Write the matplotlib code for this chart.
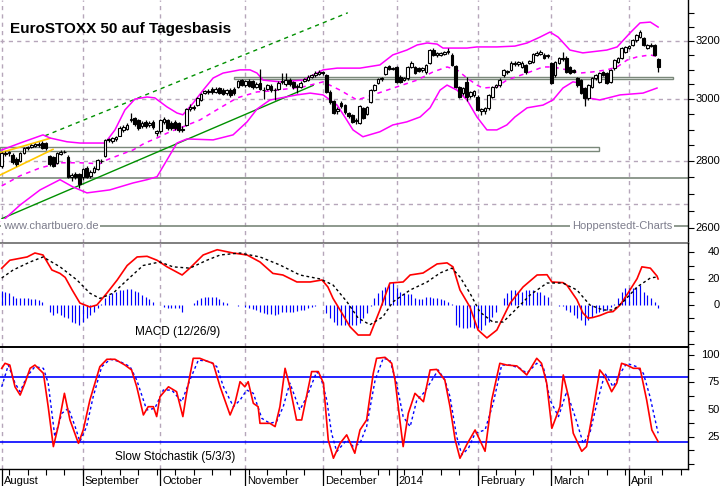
import matplotlib
matplotlib.use("Agg")
import matplotlib.pyplot as plt
import matplotlib.transforms as mtrans
from matplotlib.patches import Rectangle
from matplotlib.ticker import NullLocator

plt.rcParams['font.family'] = ['Liberation Sans', 'DejaVu Sans']

# ---------------- data (x = trading-day index, 0 = 1 Aug 2013) ----------------
opens = [2785, 2822, 2824, 2820, 2806, 2800, 2826, 2840, 2845, 2848,
         2853, 2857, 2856, 2815, 2812, 2795, 2822, 2830, 2812, 2752,
         2760, 2760, 2750, 2779, 2755, 2767, 2776, 2800, 2815, 2866,
         2862, 2870, 2880, 2898, 2903, 2930, 2938, 2930, 2912, 2925,
         2914, 2924, 2890, 2895, 2925, 2930, 2922, 2925, 2920, 2898,
         2915, 2968, 2972, 2980, 2998, 3020, 3024, 3035, 3024, 3036,
         3030, 3020, 3032, 3035, 3040, 3064, 3048, 3062, 3060, 3040,
         3055, 3030, 3035, 3045, 3030, 3035, 3058, 3050, 3066, 3058,
         3042, 3040, 3062, 3066, 3075, 3080, 3086, 3090, 3080, 3025,
         2992, 2960, 2987, 2980, 2954, 2948, 2932, 2922, 2970, 2951,
         2990, 3030, 3054, 3068, 3085, 3112, 3102, 3109, 3075, 3066,
         3071, 3110, 3109, 3105, 3098, 3090, 3122, 3168, 3150, 3152,
         3154, 3160, 3151, 3112, 3040, 3020, 3057, 3010, 3012, 3007,
         2962, 2960, 2970, 3007, 3042, 3047, 3081, 3090, 3100, 3120,
         3118, 3110, 3116, 3124, 3126, 3151, 3154, 3151, 3148, 3122,
         3081, 3122, 3136, 3140, 3109, 3098, 3071, 3064, 3037, 3004,
         3040, 3071, 3058, 3092, 3088, 3058, 3105, 3126, 3140, 3161,
         3176, 3186, 3203, 3214, 3211, 3175, 3186, 3186, 3137]
highs = [2830, 2832, 2832, 2824, 2812, 2830, 2845, 2848, 2855, 2858,
         2860, 2862, 2860, 2820, 2816, 2830, 2834, 2836, 2818, 2762,
         2766, 2764, 2780, 2785, 2772, 2784, 2808, 2806, 2870, 2874,
         2876, 2880, 2910, 2914, 2922, 2954, 2942, 2934, 2928, 2930,
         2928, 2930, 2900, 2935, 2940, 2935, 2928, 2930, 2925, 2910,
         2972, 2982, 2980, 3006, 3022, 3032, 3034, 3040, 3040, 3040,
         3036, 3034, 3036, 3040, 3066, 3068, 3066, 3068, 3066, 3058,
         3102, 3040, 3052, 3050, 3038, 3060, 3088, 3088, 3072, 3062,
         3050, 3060, 3072, 3080, 3086, 3094, 3098, 3096, 3084, 3030,
         2998, 2975, 2992, 2984, 2958, 2952, 2938, 2980, 2975, 2978,
         3034, 3050, 3072, 3076, 3112, 3116, 3110, 3112, 3080, 3074,
         3112, 3128, 3114, 3110, 3108, 3118, 3172, 3174, 3160, 3162,
         3166, 3176, 3156, 3116, 3044, 3040, 3074, 3028, 3030, 3012,
         2972, 2974, 3018, 3044, 3052, 3070, 3102, 3098, 3128, 3128,
         3130, 3128, 3120, 3132, 3158, 3164, 3168, 3156, 3155, 3126,
         3130, 3144, 3160, 3146, 3114, 3102, 3076, 3068, 3042, 3052,
         3075, 3085, 3092, 3096, 3092, 3102, 3136, 3144, 3178, 3182,
         3186, 3206, 3226, 3240, 3216, 3190, 3192, 3190, 3140]
lows = [2780, 2815, 2816, 2792, 2785, 2796, 2822, 2834, 2840, 2843,
        2845, 2838, 2836, 2786, 2782, 2790, 2818, 2824, 2748, 2738,
        2745, 2718, 2742, 2748, 2748, 2762, 2772, 2794, 2812, 2860,
        2856, 2862, 2878, 2893, 2899, 2925, 2912, 2900, 2905, 2906,
        2908, 2902, 2880, 2890, 2918, 2900, 2898, 2900, 2892, 2893,
        2912, 2962, 2964, 2976, 2994, 3016, 3018, 3018, 3020, 3016,
        3012, 3015, 3008, 3014, 3036, 3044, 3042, 3040, 3035, 3036,
        3030, 3000, 3030, 3025, 2997, 3030, 3050, 3045, 3045, 3035,
        3020, 3036, 3058, 3062, 3070, 3075, 3082, 3082, 3020, 2985,
        2950, 2950, 2970, 2952, 2938, 2920, 2918, 2918, 2934, 2946,
        2986, 3026, 3050, 3062, 3080, 3098, 3098, 3054, 3054, 3060,
        3066, 3105, 3084, 3090, 3092, 3086, 3118, 3146, 3144, 3146,
        3150, 3154, 3112, 3036, 3002, 3015, 2995, 3005, 3006, 2960,
        2948, 2952, 2965, 3002, 3038, 3042, 3076, 3085, 3095, 3114,
        3112, 3104, 3086, 3118, 3122, 3146, 3150, 3136, 3140, 3050,
        3076, 3118, 3130, 3088, 3084, 3088, 3042, 3016, 2977, 2998,
        3036, 3066, 3054, 3078, 3050, 3054, 3100, 3122, 3136, 3156,
        3172, 3182, 3198, 3210, 3182, 3170, 3178, 3148, 3092]
closes = [2825, 2826, 2828, 2796, 2790, 2826, 2841, 2845, 2851, 2853,
          2851, 2841, 2840, 2791, 2786, 2826, 2830, 2828, 2752, 2756,
          2750, 2730, 2776, 2752, 2768, 2780, 2804, 2802, 2867, 2869,
          2872, 2875, 2905, 2908, 2915, 2935, 2918, 2905, 2920, 2912,
          2922, 2908, 2894, 2930, 2933, 2905, 2905, 2905, 2898, 2902,
          2968, 2975, 2973, 3002, 3018, 3026, 3028, 3024, 3034, 3022,
          3018, 3030, 3012, 3020, 3062, 3048, 3060, 3045, 3040, 3052,
          3035, 3032, 3047, 3030, 3032, 3055, 3062, 3065, 3050, 3040,
          3045, 3055, 3068, 3075, 3082, 3088, 3092, 3088, 3025, 2990,
          2955, 2968, 2977, 2957, 2944, 2925, 2928, 2976, 2938, 2974,
          3030, 3047, 3068, 3071, 3109, 3101, 3106, 3058, 3058, 3070,
          3109, 3122, 3088, 3095, 3104, 3115, 3168, 3151, 3156, 3158,
          3162, 3163, 3116, 3040, 3007, 3037, 3007, 3024, 3026, 2964,
          2966, 2970, 3014, 3040, 3047, 3064, 3098, 3094, 3122, 3124,
          3126, 3122, 3092, 3128, 3154, 3158, 3162, 3140, 3150, 3054,
          3126, 3140, 3140, 3092, 3088, 3092, 3047, 3020, 3004, 3047,
          3071, 3081, 3088, 3081, 3054, 3098, 3133, 3140, 3175, 3179,
          3182, 3203, 3222, 3232, 3186, 3186, 3182, 3151, 3109]

bb_up_day = [0, 5.0, 11.2, 13.1, 17.7, 21.2, 26.6, 28.0, 30.7, 33.4, 36.1, 39.4, 41.5, 44.8, 47.5, 49.1, 51.9,
             54.6, 57.3, 60.0, 64.6, 67.3, 69.2, 70.8, 75.4, 81.7, 84.4, 87.1, 90.9, 97.1, 102.5, 106.0, 109.8,
             112.6, 115.3, 118.0, 119.6, 126.1, 128.8, 134.2, 139.1, 142.4, 145.9, 148.6, 150.8, 154.0, 157.5,
             164.0, 166.8, 170.3, 173.0, 175.8, 177.9]
bb_up_val = [2835, 2857, 2883, 2873, 2861, 2857, 2857, 2857, 2899, 2964, 3000, 3007, 3004, 2974, 2954, 2948, 2987,
             3030, 3071, 3088, 3099, 3099, 3088, 3064, 3058, 3064, 3081, 3099, 3105, 3105, 3116, 3151, 3168,
             3186, 3193, 3189, 3175, 3175, 3179, 3179, 3182, 3193, 3214, 3232, 3214, 3168, 3158,
             3168, 3179, 3229, 3265, 3268, 3250]
bb_mid_day = [0, 5.0, 10.4, 15.8, 21.2, 26.6, 28.5, 32.1, 35.6, 38.8, 42.1, 45.6, 48.3, 53.7, 59.2, 63.8, 69.2,
              72.7, 81.7, 87.1, 91.7, 96.3, 100.6, 107.1, 112.6, 116.9, 120.7, 123.4, 126.1, 128.8, 130.4, 134.2,
              136.9, 143.2, 146.7, 149.4, 153.2, 156.7, 160.2, 164.0, 166.8, 169.5, 172.2, 175.8, 177.9]
bb_mid_val = [2724, 2755, 2779, 2795, 2795, 2792, 2804, 2820, 2835, 2857, 2873, 2893, 2905, 2931, 2971, 3004, 3024,
              3027, 3041, 3058, 3030, 2997, 3014, 3041, 3064, 3092, 3109, 3099, 3071, 3047, 3037, 3041,
              3064, 3092, 3109, 3109, 3099, 3088, 3092, 3099, 3109, 3133, 3144, 3151, 3144]
bb_lo_day = [0, 5.0, 10.4, 15.8, 19.3, 23.1, 29.3, 35.6, 39.4, 42.1, 44.8, 47.5, 50.2, 57.3, 62.7, 66.5, 69.2,
             72.7, 80.0, 83.6, 87.1, 90.9, 93.0, 95.2, 97.9, 102.5, 106.0, 109.8, 113.4, 116.1, 118.8, 120.7,
             123.4, 126.1, 128.8, 131.5, 134.2, 136.9, 139.1, 142.4, 146.7, 149.4, 152.1, 154.8, 156.7, 158.9,
             162.1, 167.6, 173.8, 177.6]
bb_lo_val = [2618, 2667, 2712, 2743, 2721, 2703, 2712, 2733, 2743, 2752, 2804, 2857, 2870, 2867, 2883, 2925, 2967,
             2997, 3014, 3020, 3014, 2980, 2941, 2899, 2877, 2893, 2915, 2925, 2941, 2971, 3030, 3047,
             3030, 2997, 2941, 2899, 2899, 2915, 2941, 2971, 2980, 2997, 3037, 3058, 3054, 3004,
             2997, 3014, 3020, 3037]

macd_day = [0, 2.2, 6.9, 9.0, 11.2, 13.6, 15.8, 17.2, 19.1, 21.2, 23.9, 25.8, 28.5, 31.3, 34.0, 36.7, 39.4, 42.1,
            44.8, 48.9, 51.0, 54.6, 58.4, 62.7, 66.5, 70.0, 73.5, 76.2, 80.0, 83.6, 86.8, 88.4, 89.8, 91.7, 94.4,
            96.6, 99.8, 102.5, 105.2, 108.8, 110.7, 114.2, 118.0, 120.7, 122.3, 124.2, 126.9, 129.1, 131.5, 134.2,
            137.8, 141.3, 145.1, 147.8, 149.1, 152.1, 153.2, 155.9, 157.5, 158.9, 160.2, 162.1, 164.3, 165.7,
            167.6, 169.5, 172.2, 173.5, 175.8, 177.6, 177.9]
macd_val = [27.9, 34, 36.5, 39.5, 38, 26.6, 24, 21, 11.4, 1.5, -1.5, 0, 9, 19, 30, 36.5, 37, 34,
            29, 22.8, 28, 38, 42, 39.5, 38, 32.7, 24, 22.8, 17.5, 17.5, 19, 13.7, 5, -3.8, -16.5,
            -22.8, -22.8, -3.8, 16.7, 17.5, 22.8, 24.3, 31.2, 32, 29, 11.4, -1.5, -19, -25, -19,
            1.5, 13.7, 22.8, 23, 17.5, 17, 15, 4, -6, -10, -9.5, -8, -5.5, -5,
            0, 8, 20, 29, 28, 22, 19.8]
sig_day = [0, 3.1, 7.7, 11.2, 15.8, 20.4, 23.9, 26.6, 30.2, 34.0, 38.3, 42.9, 46.4, 51.0, 55.6, 59.2, 64.6, 70.0,
           75.4, 80.8, 86.3, 89.8, 93.6, 96.6, 99.8, 103.3, 106.0, 110.7, 115.3, 118.8, 122.0, 124.2, 126.9,
           129.6, 133.1, 135.9, 139.7, 143.2, 147.8, 152.1, 155.9, 159.4, 163.0, 165.7, 168.4, 172.2, 175.8, 177.6]
sig_val = [20.5, 26.6, 32.7, 36.5, 29, 19, 9, 5, 9, 19, 30, 32.7, 29, 28, 34, 38, 39.5, 36.5,
           30.4, 22.8, 19.8, 15.2, 2.3, -9.9, -15, -9, 2.3, 11.4, 17.5, 24.3, 28, 21.3, 9,
           -5.3, -12.9, -12.9, -2.3, 7.6, 16.7, 16.7, 11.4, 0, -3.8, -3.8, 2.3, 13.7, 20.5, 21.3]
macd_hist = [11, 10, 9, 7, 5.5, 5, 5, 5, 4.5, 4.3, 3.5, 2.5,
             0,
             -5, -7.6, -6.3, -7.6, -9, -10.1, -12.7, -13.4, -15.2, -12.7, -10.1, -7.6, -5.1, -2.5,
             1,
             5, 7.5, 8.9, 10.1, 11.4, 11.4, 12, 12, 11, 10.1, 7.6, 6.3, 4.3, 2.5,
             0, 0,
             -1.3, -2.5, -2.5, -2.5, -2.5, -5.1,
             0, 0,
             1.3, 3.8, 5.1, 5.8, 6.3, 6.3, 5.8, 4.3, 2.5, 1.3,
             0, 0, -0.5, 0,
             -1.3, -2.5, -3.2, -3.8, -5.1, -5.8, -6.8, -6.8, -7.6, -6.5, -5.5, -5.1, -5.1, -5.1, -4.5, -4, -3.5,
             -2.5, -1.5, -1,
             0, 0,
             -6, -10, -13, -15, -15, -15, -15, -15, -15, -14,
             -10, -6, -1,
             5, 9, 11.4, 14, 16.5, 17.7, 12.7, 10, 9, 8, 8, 5, 4.3, 4.3, 6, 6, 5.5, 5.5, 4.3, 3.8, 2.5, 1,
             -15, -16.5, -17.7, -17.7, -16.5, -17.7, -17.7, -19, -15.2, -12.7, -8.9, -5, 0,
             5, 9, 11.4, 11.4, 10, 10, 11.4, 11.4, 11.4, 10, 10, 7.6, 6,
             0, 0, -1, -1,
             -4, -5, -7.6, -10, -11.4, -15, -11.4, -8.9, -6.3, -5, -4.3, -3.8, -1.3,
             1, 5, 10, 12.7, 12.7, 12.7, 14, 15, 10, 7.6, 5, 2.5, -2]

stk_day = [0, 0.9, 2.2, 3.6, 5.0, 6.3, 7.7, 9.0, 11.3, 12.6, 14.0, 15.3, 17.0, 18.5, 20.8, 22.1, 23.9, 26.6, 28.5,
           30.7, 33.4, 35.2, 36.6, 38.4, 39.7, 41.1, 42.0, 42.9, 45.2, 47.4, 49.1, 50.1, 51.9, 53.7, 56.0, 57.3,
           59.2, 61.9, 63.2, 64.6, 65.9, 66.8, 68.2, 69.5, 70.0, 72.7, 74.1, 75.4, 76.8, 78.1, 79.9, 81.3, 84.0,
           85.8, 87.2, 88.5, 89.9, 91.7, 93.5, 95.7, 97.1, 98.9, 100.7, 101.6, 103.9, 105.7, 106.6, 107.9, 108.8,
           110.2, 112.0, 114.3, 116.1, 117.9, 120.1, 121.5, 122.9, 124.2, 126.0, 128.3, 131.0, 132.8, 135.0,
           136.9, 139.6, 142.3, 145.0, 146.3, 147.7, 149.1, 151.3, 152.2, 153.6, 154.9, 157.2, 158.5, 160.3,
           162.1, 163.5, 165.3, 166.7, 168.0, 169.4, 171.2, 173.0, 174.8, 176.2, 177.9]
stk_val = [88, 92.6, 91, 71, 63.4, 74.4, 88, 91, 83.4, 52.7, 16, 34.4, 65, 40.5, 19, 31.3, 58.8, 89.5, 96.3,
           96.3, 91, 86.5, 71, 45.1, 52.7, 52.7, 43.6, 61.9, 71, 66.5, 43.6, 65, 97.2, 97.2, 94.1, 92.6,
           71, 45.1, 55.8, 75.7, 71, 75.7, 55.8, 52.7, 37.4, 37.4, 34.4, 52.7, 88, 71, 40.5, 40.5, 85,
           85, 74.4, 22.1, 5.3, 19, 26.8, 9.9, 31.3, 40.5, 83.4, 97.2, 98.1, 92.6, 77.2, 40.5, 16,
           46.6, 65, 57.3, 86.5, 87, 77.2, 52.7, 22.1, 5.3, 17.6, 31.3, 11.7, 58.8, 92.6,
           91, 90.2, 81.9, 97.2, 92.6, 74.4, 32.8, 52.7, 81.9, 61.9, 28.3, 11.7, 16, 49.7,
           86.5, 80.3, 66.5, 74.4, 92.6, 91, 88, 88, 58.8, 31.3, 20.6]
std_day = [0, 1.8, 3.6, 5.0, 6.8, 9.0, 11.3, 12.6, 14.4, 16.3, 18.1, 19.9, 21.2, 23.0, 24.8, 27.1, 29.4, 32.1,
           34.8, 36.6, 39.3, 41.5, 43.8, 46.1, 48.8, 51.0, 53.3, 56.5, 58.3, 60.1, 62.8, 64.6, 66.4, 68.2, 70.5,
           72.7, 74.5, 76.3, 78.1, 80.8, 82.7, 85.4, 86.7, 88.1, 89.4, 90.8, 93.5, 95.3, 97.1, 98.9, 101.2,
           103.4, 105.2, 107.0, 108.8, 110.7, 112.5, 114.3, 116.1, 118.3, 120.1, 121.5, 123.3, 124.7, 126.5,
           128.3, 131.0, 133.2, 135.5, 137.8, 140.5, 142.3, 145.0, 146.8, 148.6, 150.9, 153.1, 155.4, 157.6,
           159.4, 161.3, 163.5, 165.7, 167.6, 169.4, 172.1, 173.9, 175.7, 177.9]
std_val = [71, 91, 74.4, 66.5, 80.3, 89.5, 88, 74.4, 25.2, 46.6, 51.2, 34.4, 20.6, 34.4, 61.9, 89.5, 96.3, 94.1,
           89.5, 77.2, 49.7, 51.2, 68, 68, 57.3, 77.2, 95.6, 94.1, 89.5, 71, 52.7, 58.8, 68, 65, 42,
           37.4, 39, 52.7, 74.4, 49.7, 61.9, 85, 77.2, 58.8, 28.3, 11.4, 22.1, 16, 19, 34.4, 77.2,
           97.2, 95.6, 74.4, 43.6, 34.4, 58.8, 65, 74.4, 86.5, 77.2, 61.9, 25.2, 8.4, 14.5,
           28.3, 31.3, 55.8, 91, 91, 88, 83.4, 92.6, 89.5, 58.8, 43.6, 66.5, 43.6, 19,
           28.3, 55.8, 83.4, 71, 83.4, 92.6, 89.5, 83.4, 61.9, 28.3]

# chart drawings (day index, price)
support_day = [0.08, 84.4]
support_val = [2627, 3046]
resist_day = [11.7, 93.8]
resist_val = [2880, 3302]
yel_up_day = [-0.46, 13.1]
yel_up_val = [2826, 2872]
yel_lo_day = [-0.46, 13.9]
yel_lo_val = [2757, 2837]
zone_hi_days = [63.0, 181.9]
zone_hi_vals = [3066.7, 3075.6]
zone_lo_days = [-0.46, 161.9]
zone_lo_vals = [2832.8, 2845.4]
hlines_solid = [2748.2, 2606.2]
hlines_grid = [3200, 3000, 2800, 2670]

month_start = [0, 22, 43, 66, 87, 107, 129, 149, 170]
month_labels = ['August', 'September', 'October', 'November', 'December', '2014',
                'February', 'March', 'April']
week_ticks = [2, 7, 12, 17, 22, 27, 32, 37, 42, 47, 52, 57, 62, 67, 72, 77, 82, 87, 92, 97, 102,
              105, 109, 114, 119, 124, 129, 134, 139, 144, 149, 154, 159, 164, 169, 174, 179, 184]

price_ticks = [2600, 2800, 3000, 3200]
macd_ticks = [0, 20, 40]
stoch_ticks = [25, 50, 75, 100]

# ---------------- layout ----------------
W, H = 723, 486
fig = plt.figure(figsize=(W / 100, H / 100), dpi=100)
fig.patch.set_facecolor('white')


def rect(x0, y0, x1, y1):
    return [x0 / W, 1 - y1 / H, (x1 - x0) / W, (y1 - y0) / H]


AXR = 688
ax_p = fig.add_axes(rect(0, 0, AXR, 243))
ax_m = fig.add_axes(rect(0, 243, AXR, 347))
ax_s = fig.add_axes(rect(0, 347, AXR, 469))

GRID = '#b6a6ba'
ZONE = '#7a887a'
LBL_X = 720 / AXR

for ax in (ax_p, ax_m, ax_s):
    ax.set_xlim(-0.46, 186.0)
    ax.set_facecolor('none')
    for side in ('top', 'left'):
        ax.spines[side].set_visible(False)
    ax.spines['right'].set_color('black')
    ax.spines['right'].set_linewidth(1.0)
    ax.yaxis.tick_right()
    ax.tick_params(axis='y', which='both', direction='out', length=4, width=0.8,
                   labelright=False, labelleft=False)
    ax.yaxis.set_minor_locator(NullLocator())
    for m in month_start:
        ax.axvline(m, color=GRID, lw=1.0, ls=(0, (3, 3)), zorder=0)

ax_p.tick_params(axis='x', bottom=False, labelbottom=False)
ax_m.tick_params(axis='x', bottom=False, labelbottom=False)


def ylabels(ax, vals):
    tr = mtrans.blended_transform_factory(ax.transAxes, ax.transData)
    for v in vals:
        ax.text(LBL_X, v, str(v), transform=tr, ha='right', va='center', fontsize=8,
                clip_on=False)


# ---------------- price panel ----------------
ax_p.set_yscale('log')
ax_p.set_ylim(2556.6, 3349.2)
ax_p.set_yticks(list(range(2600, 3301, 50)))
ax_p.yaxis.set_minor_locator(NullLocator())
ax_p.tick_params(axis='y', which='both', labelright=False, labelleft=False)
ylabels(ax_p, price_ticks)
ax_p.spines['bottom'].set_color('#6a6a6a')
ax_p.spines['bottom'].set_linewidth(1.2)

for v in hlines_grid:
    ax_p.axhline(v, color=GRID, lw=1.0, ls=(0, (3, 3)), zorder=0)
for v in hlines_solid:
    ax_p.axhline(v, color=ZONE, lw=1.2, zorder=1)
for dd, vv in ((zone_hi_days, zone_hi_vals), (zone_lo_days, zone_lo_vals)):
    ax_p.add_patch(Rectangle((dd[0], vv[0]), dd[1] - dd[0], vv[1] - vv[0], fill=False,
                             edgecolor=ZONE, lw=1.0, zorder=2))

ax_p.plot(support_day, support_val, color='#009000', lw=1.0, zorder=3)
ax_p.plot(resist_day, resist_val, color='#009000', lw=1.0, ls=(0, (3, 3)), zorder=3)
ax_p.plot(yel_up_day, yel_up_val, color='#ffc800', lw=1.2, zorder=3)
ax_p.plot(yel_lo_day, yel_lo_val, color='#ffc800', lw=1.2, zorder=3)

ax_p.plot(bb_up_day, bb_up_val, color='#ff00ff', lw=1.1, zorder=3)
ax_p.plot(bb_lo_day, bb_lo_val, color='#ff00ff', lw=1.1, zorder=3)
ax_p.plot(bb_mid_day, bb_mid_val, color='#ff00ff', lw=1.1, ls=(0, (3, 3)), zorder=3)

idx = list(range(len(closes)))
ax_p.vlines(idx, lows, highs, color='black', lw=0.9, zorder=4)
bottoms = [min(o, c) for o, c in zip(opens, closes)]
heights = [max(abs(c - o), 1.5) for o, c in zip(opens, closes)]
faces = ['white' if c >= o else 'black' for o, c in zip(opens, closes)]
ax_p.bar(idx, heights, bottom=bottoms, width=0.72, color=faces, edgecolor='black',
         linewidth=0.8, zorder=5)

fig.text(10 / W, 1 - 29.5 / H, 'EuroSTOXX 50 auf Tagesbasis', fontsize=11, fontweight='bold',
         ha='left', va='center')
fig.text(3 / W, 1 - 226 / H, 'www.chartbuero.de', fontsize=8, color='#7d7d8c', ha='left',
         va='center', bbox=dict(boxstyle='square,pad=0.15', fc='white', ec='none'))
fig.text(672 / W, 1 - 225.5 / H, 'Hoppenstedt-Charts', fontsize=8, color='#7d7d8c', ha='right',
         va='center', bbox=dict(boxstyle='square,pad=0.15', fc='white', ec='none'))

# ---------------- MACD panel ----------------
ax_m.set_ylim(-31.9, 47.1)
ax_m.set_yticks(list(range(-30, 41, 10)))
ylabels(ax_m, macd_ticks)
ax_m.spines['bottom'].set_color('black')
ax_m.spines['bottom'].set_linewidth(1.4)
ax_m.vlines(idx, 0, macd_hist, color='#0000ff', lw=0.85, zorder=2)
ax_m.plot(macd_day, macd_val, color='#ff0000', lw=1.2, zorder=3)
ax_m.plot(sig_day, sig_val, color='black', lw=1.0, ls=(0, (2, 2)), zorder=3)
fig.text(178 / W, 1 - 332 / H, 'MACD (12/26/9)', fontsize=8.5, ha='center', va='center')

# ---------------- Stochastic panel ----------------
ax_s.set_ylim(-4.6, 107.6)
ax_s.set_yticks([0, 12.5, 25, 37.5, 50, 62.5, 75, 87.5, 100])
ylabels(ax_s, stoch_ticks)
ax_s.spines['bottom'].set_color('black')
ax_s.spines['bottom'].set_linewidth(1.0)
ax_s.axhline(80, color='#0000ff', lw=1.2, zorder=2)
ax_s.axhline(20, color='#0000ff', lw=1.2, zorder=2)
ax_s.plot(std_day, std_val, color='#0000ff', lw=1.0, ls=(0, (2, 2)), zorder=3)
ax_s.plot(stk_day, stk_val, color='#ff0000', lw=1.2, zorder=4)
fig.text(175 / W, 1 - 457 / H, 'Slow Stochastik (5/3/3)', fontsize=8.5, ha='center', va='center')

ax_s.set_xticks(week_ticks)
ax_s.tick_params(axis='x', direction='out', length=4, width=0.8, labelbottom=False)
trb = mtrans.blended_transform_factory(ax_s.transData, ax_s.transAxes)
axh = 469 - 347
for m, lab in zip(month_start, month_labels):
    ax_s.plot([m, m], [0, -17 / axh], transform=trb, color='black', lw=0.9, clip_on=False)
    ax_s.text(m + 0.55, -14.5 / axh, lab, transform=trb, ha='left', va='baseline', fontsize=8,
              clip_on=False)

fig.savefig('out.png', dpi=100)
